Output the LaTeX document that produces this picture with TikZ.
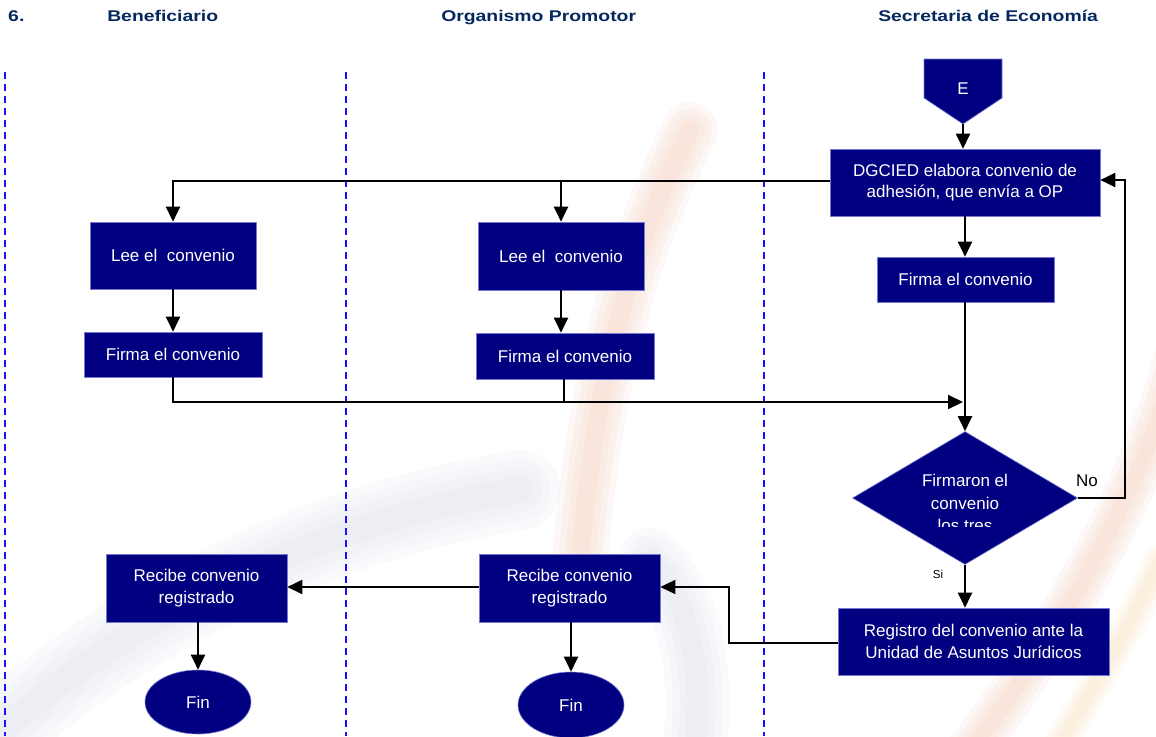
\documentclass[tikz,border=0pt]{standalone}
\usepackage{fontspec}
\setmainfont{Liberation Sans}
\usetikzlibrary{arrows.meta,shapes.geometric,calc}
\definecolor{boxnavy}{RGB}{0,0,128}
\definecolor{boxedge}{RGB}{120,120,210}
\definecolor{headnavy}{RGB}{5,40,95}
\definecolor{laneblue}{RGB}{20,20,255}
\definecolor{wmgray}{RGB}{175,182,210}
\definecolor{wmwarm}{RGB}{235,140,100}
\definecolor{wmgold}{RGB}{245,195,110}
\begin{document}
\begin{tikzpicture}[x=1pt,y=-1pt,
  stepbox/.style={rectangle,fill=boxnavy,draw=boxedge,line width=0.6pt,text=white,
    inner sep=0pt,align=center,font=\fontsize{17}{21.5}\selectfont},
  endbox/.style={ellipse,fill=boxnavy,draw=boxedge,line width=0.6pt,text=white,
    inner sep=0pt,font=\fontsize{17}{21}\selectfont},
  tip/.style={-{Triangle[length=15pt,width=14pt]}},
  flow/.style={line width=2pt,tip},
  plain/.style={line width=2pt},
  lane/.style={draw=laneblue,line width=2pt,dash pattern=on 7pt off 5pt},
  head/.style={anchor=base west,text=headnavy,inner sep=0pt,
    font=\fontsize{15.5}{18}\selectfont\bfseries,xscale=1.25},
  lbl/.style={inner sep=0pt,text=black},
  soft/.style={line cap=round,opacity=0.06}]
\useasboundingbox (0,0) rectangle (1156,736);
\fill[white] (0,0) rectangle (1156,736);

% faint logo swooshes in the background, feathered by stacking strokes
\begin{scope}
\clip (0,0) rectangle (1156,736);
\foreach \w in {80,62,44,26} {
  \draw[wmgray,soft,line width=\w pt]
    (-40,770) .. controls (120,610) and (330,520) .. (520,490);
  \draw[wmgray,soft,line width=0.8*\w pt]
    (650,560) .. controls (700,610) and (705,700) .. (690,780);
  \draw[wmwarm,soft,line width=0.7*\w pt]
    (690,130) .. controls (630,250) and (595,380) .. (580,560);
  \draw[wmwarm,soft,line width=0.6*\w pt]
    (1185,330) .. controls (1150,480) and (1060,640) .. (940,790);
  \draw[wmgold,soft,line width=0.4*\w pt]
    (1160,560) .. controls (1125,640) and (1085,700) .. (1045,770);
}
\end{scope}

% lane titles
\node[head] (hnum) at (8,21) {6.};
\node[head] (hben) at (107,21) {Beneficiario};
\node[head] (hop) at (441,21) {Organismo Promotor};
\node[head] (hse) at (878,21) {Secretaria de Economía};

% lane separators
\coordinate (l1t) at (4.5,72);  \coordinate (l1b) at (4.5,736);
\coordinate (l2t) at (346,72);  \coordinate (l2b) at (346,736);
\coordinate (l3t) at (764,72);  \coordinate (l3b) at (764,736);
\draw[lane] (l1t) -- (l1b);
\draw[lane] (l2t) -- (l2b);
\draw[lane] (l3t) -- (l3b);

% off-page entry connector
\fill[boxnavy,draw=boxedge,line width=0.6pt]
  (924,59) -- (1002,59) -- (1002,98) -- (963,124) -- (924,98) -- cycle;
\node[text=white,font=\fontsize{17}{20}\selectfont,inner sep=0pt] (E) at (963,89) {E};
\coordinate (Etip) at (963,124);

% Secretaria de Economia
\node[stepbox,minimum width=270pt,minimum height=67pt] (dg) at (965,182.5)
  {DGCIED elabora convenio de\\adhesión, que envía a OP};
\node[stepbox,minimum width=177pt,minimum height=45pt] (fse) at (965.5,279.5)
  {Firma el convenio};
\node[diamond,fill=boxnavy,draw=boxedge,line width=0.6pt,inner sep=0pt,
  minimum width=225pt,minimum height=133pt] (dia) at (965,498) {};
\begin{scope}
\clip (840,440) rectangle (1090,526);
\node[text=white,align=center,inner sep=0pt,font=\fontsize{17}{22.5}\selectfont,
  anchor=north] (diatxt) at (965,474) {Firmaron el\\convenio\\los tres};
\end{scope}
\node[stepbox,minimum width=271pt,minimum height=67pt] (reg) at (973.5,641.5)
  {Registro del convenio ante la\\Unidad de Asuntos Jurídicos};

% Beneficiario
\node[stepbox,minimum width=166pt,minimum height=67pt] (leeb) at (173,255.5)
  {Lee el\ \ convenio};
\node[stepbox,minimum width=178pt,minimum height=45pt] (fb) at (173,354.5)
  {Firma el convenio};
\node[stepbox,minimum width=181pt,minimum height=68pt] (recb) at (196.5,588)
  {Recibe convenio\\registrado};
\node[endbox,minimum width=106pt,minimum height=64pt] (finb) at (198,702) {Fin};

% Organismo Promotor
\node[stepbox,minimum width=166pt,minimum height=68pt] (leeop) at (561,256)
  {Lee el\ \ convenio};
\node[stepbox,minimum width=178pt,minimum height=46pt] (fop) at (565,356)
  {Firma el convenio};
\node[stepbox,minimum width=181pt,minimum height=68pt] (recop) at (569.5,588)
  {Recibe convenio\\registrado};
\node[endbox,minimum width=106pt,minimum height=66pt] (finop) at (571,705) {Fin};

% connectors
\draw[flow] (Etip) -- (Etip |- dg.north);
\draw[flow] (dg.west |- 0,181) -| (leeb.north);
\draw[flow] (leeop.north |- 0,181) -- (leeop.north);
\draw[flow] (dg.south) -- (fse.north -| dg.south);
\draw[flow] (fse.south -| dg.south) -- (dia.north);
\draw[flow] (leeb.south) -- (fb.north);
\draw[flow] (leeop.south) -- (leeop.south |- fop.north);
\coordinate (join) at (963,402);
\draw[flow] (fb.south) |- (join);
\draw[plain] (fop.south -| 564,0) -- (564,402);
\coordinate (loop) at (1125,498);
\draw[flow] (dia.east) -- (loop) |- (dg.east |- 0,180);
\draw[flow] (dia.south) -- (dia.south |- reg.north);
\coordinate (bend) at (729,643);
\draw[line width=1.4pt,tip]
  (reg.west |- bend) -- (bend) |- (recop.east |- 0,587);
\draw[flow] (recop.west |- 0,587) -- (recb.east |- 0,587);
\draw[flow] (recb.south -| finb.north) -- (finb.north);
\draw[flow] (recop.south -| finop.north) -- (finop.north);

% decision labels
\node[lbl,font=\fontsize{17}{20}\selectfont] (no) at (1087,481) {No};
\node[lbl,font=\fontsize{11.5}{13}\selectfont] (si) at (938,574) {Si};
\end{tikzpicture}
\end{document}
